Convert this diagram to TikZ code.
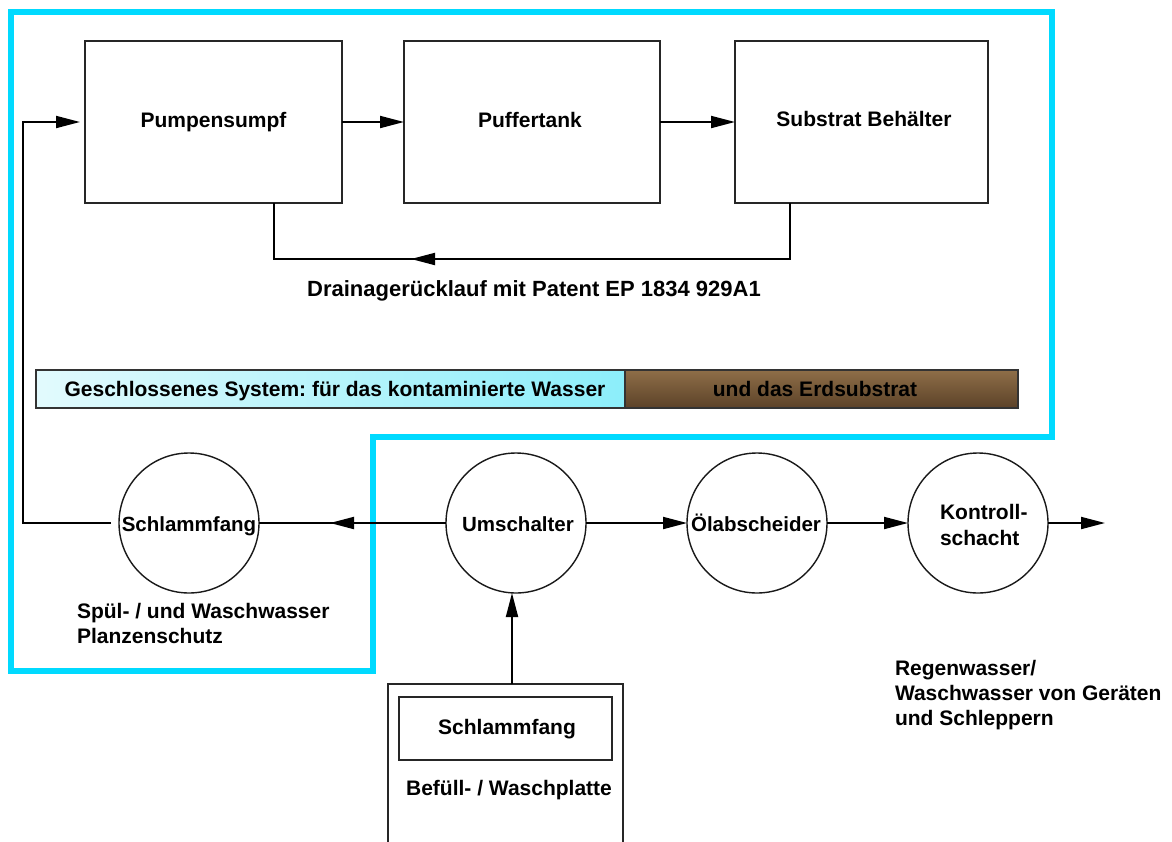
\documentclass[tikz,border=0pt]{standalone}
\usepackage{fontspec}
\setmainfont{Liberation Sans}
\usetikzlibrary{arrows.meta,calc}
\definecolor{cyanline}{RGB}{0,218,255}
\definecolor{barL}{RGB}{226,250,253}
\definecolor{barR}{RGB}{140,238,250}
\definecolor{brownT}{RGB}{142,110,72}
\definecolor{brownB}{RGB}{92,66,40}
\frenchspacing
\begin{document}
\begin{tikzpicture}[x=1pt,y=-1pt,
  every node/.style={font=\fontsize{21}{25}\selectfont\bfseries, inner sep=0pt, outer sep=0pt},
  box/.style={draw=black!85, line width=1.4pt, rectangle},
  circ/.style={draw=black!90, line width=1.4pt, circle, minimum size=140pt},
  conn/.style={line width=1.9pt, black},
  arr/.style={conn, -{Triangle[length=24pt,width=12pt]}},
  lbl/.style={anchor=base},
  lblw/.style={anchor=base west},
  cfont/.style={font=\fontsize{20.5}{25}\selectfont\bfseries},
]
\useasboundingbox (0,0) rectangle (1172,841);
\fill[white] (0,0) rectangle (1172,841);
% cyan enclosure
\draw[line width=6pt, cyanline, line join=miter] (11,12) -- (1052,12) -- (1052,437) -- (373,437) -- (373,671) -- (11,671) -- cycle;

% top boxes
\node[box, minimum width=257pt, minimum height=162pt] (P) at (213.5,122) {};
\node[box, minimum width=256pt, minimum height=162pt] (Pf) at (532,122) {};
\node[box, minimum width=253pt, minimum height=162pt] (S) at (861.5,122) {};
\node[lbl] (tP) at (213.5,127.5) {Pumpensumpf};
\node[lbl] (tPf) at (530,127.5) {Puffertank};
\node[lbl] (tS) at (864,126) {Substrat Behälter};

\draw[arr] (P.east) -- (Pf.west);
\draw[arr] (Pf.east) -- (S.west);

% drainage return
\coordinate (r1) at (790,203);
\coordinate (r2) at (790,259);
\coordinate (r3) at (274,259);
\coordinate (r4) at (274,203);
\coordinate (rm) at (411,259);
\draw[conn] (r1) -- (r2) -- (r3) -- (r4);
\draw[arr] (r2) -- (rm);
\node[lbl, font=\fontsize{22}{26}\selectfont\bfseries] (tD) at (534,296) {Drainagerücklauf mit Patent EP 1834 929A1};

% bar
\node[box, line width=1.2pt, draw=black!80, left color=barL, right color=barR, minimum width=589pt, minimum height=38pt] (G) at (330.5,389) {};
\node[box, line width=1.2pt, draw=black!80, top color=brownT, bottom color=brownB, minimum width=393pt, minimum height=38pt] (E) at (821.5,389) {};
\node[lbl] (tG) at (335,396) {Geschlossenes System: für das kontaminierte Wasser};
\node[lbl] (tE) at (815,396) {und das Erdsubstrat};

% circles
\node[circ] (SC) at (189,523) {};
\node[circ] (U) at (516,523) {};
\node[circ] (O) at (757,523) {};
\node[circ] (K) at (978,523) {};
\node[lbl,cfont] (tSC) at (189,531) {Schlammfang};
\node[lbl,cfont] (tU) at (518,531) {Umschalter};
\node[lbl,cfont] (tO) at (756,531) {Ölabscheider};
\node[lblw] (tK1) at (940,519) {Kontroll-};
\node[lblw] (tK2) at (940,545) {schacht};

% left loop
\coordinate (l1) at (111,523);
\coordinate (l2) at (23,523);
\coordinate (l3) at (23,122);
\coordinate (l4) at (80,122);
\draw[arr] (l1) -- (l2) -- (l3) -- (l4);

% circle connections
\coordinate (m1) at (330,523);
\draw[conn] (U.west) -- (SC.east);
\draw[arr] (U.west) -- (m1);
\draw[arr] (U.east) -- (O.west);
\draw[arr] (O.east) -- (K.west);
\coordinate (out) at (1105,523);
\draw[arr] (K.east) -- (out);

% bottom box
\node[box, minimum width=235pt, minimum height=180pt] (B) at (505.5,774) {};
\node[box, minimum width=213pt, minimum height=63pt] (Bi) at (505.5,728.5) {};
\node[lbl] (tB1) at (507,734) {Schlammfang};
\node[lbl] (tB2) at (509,795) {Befüll- / Waschplatte};
\coordinate (ub) at (512,684);
\coordinate (ut) at (512,593);
\draw[arr] (ub) -- (ut);

% free texts
\node[lblw] (tSp1) at (77,618) {Spül- / und Waschwasser};
\node[lblw] (tSp2) at (77,643) {Planzenschutz};
\node[lblw] (tR1) at (895,675) {Regenwasser/};
\node[lblw] (tR2) at (895,700) {Waschwasser von Geräten};
\node[lblw] (tR3) at (895,725) {und Schleppern};
\end{tikzpicture}
\end{document}
